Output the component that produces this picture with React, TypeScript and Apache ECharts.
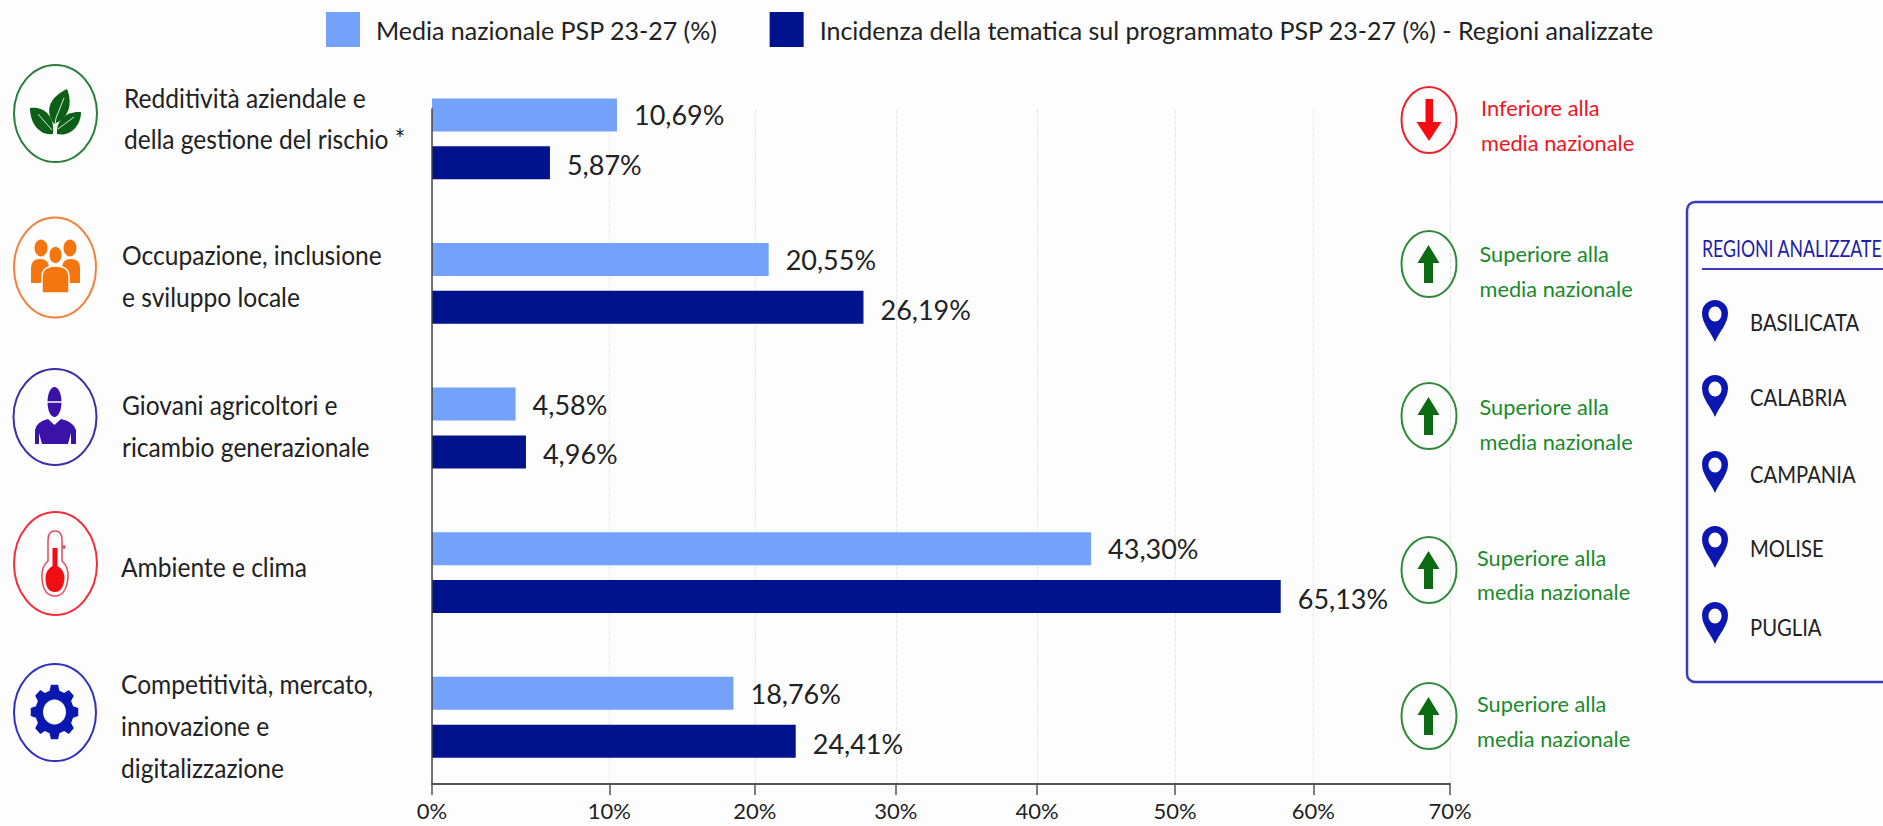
import React, { useEffect, useRef } from "react";
import * as echarts from "echarts";

// ---- data ----
const seriesNames = ["Media nazionale PSP 23-27 (%)", "Incidenza della tematica sul programmato PSP 23-27 (%) - Regioni analizzate"];
const categoryLines = [
  ["Redditività aziendale e", "della gestione del rischio *"],
  ["Occupazione, inclusione", "e sviluppo locale"],
  ["Giovani agricoltori e", "ricambio generazionale"],
  ["Ambiente e clima"],
  ["Competitività, mercato,", "innovazione e", "digitalizzazione"],
];
const categories = categoryLines.map((l) => l.join(" "));
// printed percentages
const nationalLabels = ["10,69%", "20,55%", "4,58%", "43,30%", "18,76%"];
const regionLabels = ["5,87%", "26,19%", "4,96%", "65,13%", "24,41%"];
// The reference's bars are not to scale with their printed values, nor its ticks evenly spaced:
// these are the drawn lengths of the bars, read on a linear 0-70 scale.
const nationalBarLengths = [12.72, 23.15, 5.75, 45.32, 20.73];
const regionBarLengths = [8.11, 29.67, 6.46, 58.36, 25.01];
const tickPositions = [0, 12.2, 22.2, 31.9, 41.6, 51.1, 60.6, 70];
const tickLabels = ["0%", "10%", "20%", "30%", "40%", "50%", "60%", "70%"];
const statusLines = [
  ["Inferiore alla", "media nazionale"],
  ["Superiore alla", "media nazionale"],
  ["Superiore alla", "media nazionale"],
  ["Superiore alla", "media nazionale"],
  ["Superiore alla", "media nazionale"],
];
const statusUp = [false, true, true, true, true];
const panelTitle = "REGIONI ANALIZZATE";
const regions = ["BASILICATA", "CALABRIA", "CAMPANIA", "MOLISE", "PUGLIA"];

// ---- layout ----
const BG = "#fdfdfd";
const LIGHT = "#74a2fb";
const DARK = "#00128c";
const RED = "#f0141e";
const GREEN = "#1b8a2c";
const FONT = "Lato";
const catLineY = [[98, 139], [255, 297], [405, 447], [567], [684, 726, 768]];
const catX = [124, 122, 122, 121, 121];
const statusCy = [120, 264, 416, 570, 716];
const statusLineY = [[107, 142], [253, 288], [406, 441], [557, 591], [703, 738]];
const statusX = [1481, 1479.5, 1479.5, 1477, 1477];
const pinTop = [300, 375, 451, 526, 602];
const regionY = [323, 398, 475, 549, 628];

function gearPath(cx: number, cy: number, rx: number, ry: number) {
  const n = 8;
  let d = "";
  for (let i = 0; i < n; i++) {
    const a = (i / n) * Math.PI * 2 - Math.PI / 2;
    const s = (Math.PI * 2) / n;
    const pts: [number, number][] = [
      [0.8, a - s * 0.33],
      [1, a - s * 0.19],
      [1, a + s * 0.19],
      [0.8, a + s * 0.33],
    ];
    pts.forEach(([r, t], k) => {
      const x = cx + Math.cos(t) * rx * r;
      const y = cy + Math.sin(t) * ry * r;
      d += (i === 0 && k === 0 ? "M" : "L") + x.toFixed(2) + " " + y.toFixed(2) + " ";
    });
  }
  return d + "Z";
}

const shapes: Record<string, string> = {
  leafC: "M54 124 C44 110 50 97 67 89 C73 104 69 118 54 124 Z",
  leafL: "M53 134 C40 136 30 124 30 108 C44 106 55 116 53 134 Z",
  leafR: "M57 134 C56 120 66 111 81 112 C81 126 70 137 57 134 Z",
  bodyL: "M31 283 L31 268 Q31 259 40 259 Q49 259 49 268 L49 283 Z",
  bodyR: "M62 283 L62 268 Q62 259 71 259 Q80 259 80 268 L80 283 Z",
  bodyC: "M42 293 L42 277 Q42 266 55.5 266 Q69 266 69 277 L69 293 Z",
  worker: "M35 444 L35 430 Q36 422 48 419 L54.5 425 L61 419 Q74 422 76 430 L76 444 L71 444 L71 433 L68 444 L42 444 L39 433 L39 444 Z",
  thermoOut: "M48 561 L48 540 Q48 531 55 531 Q62 531 62 540 L62 561 Q69 567 68 578 Q66 596 55 596 Q43 596 42 578 Q41 567 48 561 Z",
  thermoIn: "M52.5 548 L57.5 548 L57.5 566 Q65 570 64.5 579 Q63 592 55 592 Q46 592 45.5 579 Q45 570 52.5 566 Z",
  gear: gearPath(54.5, 712, 24, 27.5),
  pin: "M0 42 C-4 32 -13 24 -13 13 A13 13 0 0 1 13 13 C13 24 4 32 0 42 Z",
};
Object.keys(shapes).forEach((k) => {
  echarts.graphic.registerShape(k, echarts.graphic.extendPath(shapes[k], {}));
});

const txt = (text: string, x: number, y: number, size: number, fill: string, scaleX = 1, font = FONT) => ({
  type: "text",
  x,
  y,
  scaleX,
  z: 10,
  style: { text, fill, font: `${size}px ${font}`, align: "left", verticalAlign: "middle" },
});
const ell = (cx: number, cy: number, rx: number, ry: number, style: any) => ({
  type: "ellipse",
  shape: { cx, cy, rx, ry },
  z: 10,
  style,
});
const shp = (type: string, fill: string, extra: any = {}) => ({ type, z: 10, style: { fill, ...extra } });
const ringStyle = (c: string) => ({ fill: "none", stroke: c, lineWidth: 2 });
const seg = (pts: number[][], stroke: string, lineWidth = 1) => ({
  type: "polyline",
  z: 11,
  shape: { points: pts },
  style: { stroke, lineWidth, fill: "none" },
});

function buildGraphics() {
  const g: any[] = [];
  // left icons
  g.push(ell(55.5, 113.5, 41.5, 48.5, ringStyle("#2a7d3a")));
  g.push(shp("leafC", "#0d5f18"), shp("leafL", "#0d5f18"), shp("leafR", "#0d5f18"));
  g.push(seg([[53, 135], [56, 118], [64, 98]], "#dcebdc", 1));
  g.push(seg([[52, 130], [38, 114]], "#dcebdc", 1), seg([[58, 129], [74, 117]], "#dcebdc", 1));

  g.push(ell(55, 267.5, 41, 50, ringStyle("#f4803a")));
  g.push(ell(41, 248, 6.5, 8.5, { fill: "#f5760f" }), ell(70, 248, 6.5, 8.5, { fill: "#f5760f" }));
  g.push(shp("bodyL", "#f5760f"), shp("bodyR", "#f5760f"));
  g.push(ell(55.5, 255, 6.5, 8.5, { fill: "#f5760f", stroke: BG, lineWidth: 1 }));
  g.push(shp("bodyC", "#f5760f", { stroke: BG, lineWidth: 1.5 }));

  g.push(ell(55, 417, 41.5, 48, ringStyle("#3d2cae")));
  g.push(ell(54.5, 402, 7, 15, { fill: "#3a12a8" }));
  g.push(seg([[47, 402], [62, 402]], BG, 1.5));
  g.push(shp("worker", "#3a12a8"));

  g.push(ell(55.5, 563.5, 41.5, 51.5, ringStyle("#f03038")));
  g.push(shp("thermoOut", "none", { stroke: "#e8485a", lineWidth: 1.5 }));
  g.push(shp("thermoIn", "#f00d14"));
  g.push(ell(64, 547, 1.5, 2, { fill: "#e8485a" }));

  g.push(ell(55, 712.5, 41, 48.5, ringStyle("#3030c0")));
  g.push(shp("gear", "#0a18b0"));
  g.push(ell(54.5, 712, 11.5, 12.5, { fill: BG }));

  // category text
  categoryLines.forEach((lines, i) =>
    lines.forEach((l, j) => g.push(txt(l, catX[i], catLineY[i][j], 27, "#222", 0.91)))
  );

  // status column
  statusLines.forEach((lines, i) => {
    const cy = statusCy[i];
    const c = statusUp[i] ? GREEN : RED;
    g.push(ell(1429, cy, 27.5, 33, { fill: "none", stroke: statusUp[i] ? "#2f8a3a" : "#f0202a", lineWidth: 2 }));
    const arrowFill = statusUp[i] ? "#0c6b12" : "#f80a12";
    const pts = statusUp[i]
      ? [[1428.5, cy - 19], [1439.5, cy - 1], [1433, cy - 1], [1433, cy + 19], [1424, cy + 19], [1424, cy - 1], [1417.5, cy - 1]]
      : [[1429, cy + 21], [1416.5, cy + 2], [1425.5, cy + 2], [1425.5, cy - 21], [1433, cy - 21], [1433, cy + 2], [1441.5, cy + 2]];
    g.push({ type: "polygon", z: 10, shape: { points: pts }, style: { fill: arrowFill } });
    lines.forEach((l, j) => g.push(txt(l, statusX[i], statusLineY[i][j], 22, c, 0.99)));
  });

  // regions panel
  g.push({
    type: "rect",
    z: 9,
    shape: { x: 1687, y: 202, width: 230, height: 480, r: 8 },
    style: { fill: "none", stroke: "#3b3bbd", lineWidth: 2.5 },
  });
  g.push(txt(panelTitle, 1702, 248, 23, "#1e1ea8", 0.77));
  g.push(seg([[1702, 269], [1883, 269]], "#3b3bbd", 2));
  regions.forEach((r, i) => {
    g.push({ type: "pin", x: 1715, y: pinTop[i], z: 10, style: { fill: "#0b17b0" } });
    g.push(ell(1715, pinTop[i] + 14, 6.5, 7.5, { fill: BG }));
    g.push(txt(r, 1750, regionY[i], 23, "#222", 0.88));
  });
  return g;
}

export default function App() {
  const ref = useRef<HTMLDivElement>(null);
  useEffect(() => {
    const chart = echarts.init(ref.current!, undefined, { renderer: "svg" });
    const labelOf = (arr: string[], dy: number) => ({
      show: true,
      position: "right" as const,
      distance: 17,
      offset: [0, dy],
      color: "#222",
      fontFamily: FONT,
      fontSize: 27,
      formatter: (p: any) => arr[p.dataIndex],
    });
    chart.setOption({
      animation: false,
      backgroundColor: BG,
      textStyle: { fontFamily: FONT },
      legend: {
        left: 326,
        top: 12,
        padding: 0,
        icon: "rect",
        itemWidth: 34,
        itemHeight: 35,
        itemGap: 52,
        selectedMode: false,
        textStyle: { fontFamily: FONT, fontSize: 25, color: "#222", padding: [12, 0, 0, 11] },
        data: seriesNames,
      },
      grid: [
        { left: 432, right: 433, top: 109, height: 675 },
        { left: 432, right: 433, top: 66.5, height: 723 },
      ],
      xAxis: [
        {
          type: "value",
          gridIndex: 0,
          min: 0,
          max: 70,
          axisLine: { show: true, lineStyle: { color: "#555", width: 2 } },
          axisTick: { show: true, length: 11, customValues: tickPositions, lineStyle: { color: "#555", width: 1.5 } },
          axisLabel: {
            customValues: tickPositions,
            margin: 15,
            color: "#222",
            fontFamily: FONT,
            fontSize: 22,
            formatter: (v: number) => tickLabels[tickPositions.indexOf(v)] ?? "",
          },
          splitLine: { show: true, lineStyle: { color: "#e6e6e6", type: "dashed", width: 1 } },
        },
        { type: "value", gridIndex: 1, min: 0, max: 70, show: false },
      ],
      yAxis: [
        {
          type: "category",
          gridIndex: 0,
          inverse: true,
          data: categories,
          z: 5,
          axisLine: { show: true, lineStyle: { color: "#444", width: 1.5 } },
          axisTick: { show: false },
          axisLabel: { show: false },
          splitLine: { show: false },
        },
        { type: "category", gridIndex: 1, inverse: true, data: categories, show: false },
      ],
      series: [
        {
          name: seriesNames[0],
          type: "bar",
          xAxisIndex: 1,
          yAxisIndex: 1,
          data: nationalBarLengths,
          barWidth: 33,
          barGap: "45%",
          itemStyle: { color: LIGHT },
          label: labelOf(nationalLabels, 0),
        },
        {
          name: seriesNames[1],
          type: "bar",
          xAxisIndex: 1,
          yAxisIndex: 1,
          data: regionBarLengths,
          barWidth: 33,
          barGap: "45%",
          itemStyle: { color: DARK },
          label: labelOf(regionLabels, 2),
        },
      ],
      graphic: { elements: buildGraphics() },
    });
    return () => chart.dispose();
  }, []);
  return <div ref={ref} style={{ position: "fixed", left: 0, top: 0, width: 1883, height: 826 }} />;
}
